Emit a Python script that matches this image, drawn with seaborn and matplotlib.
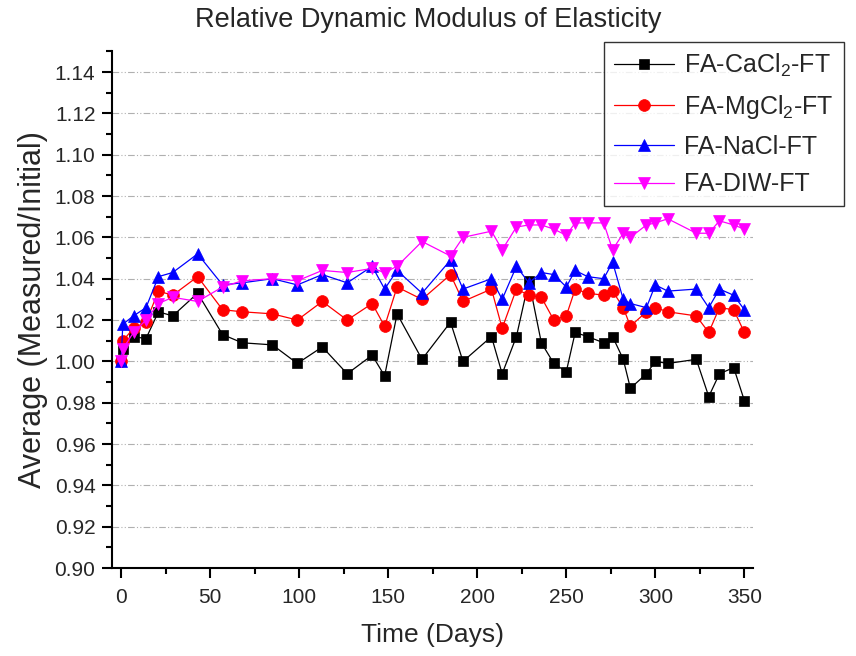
import numpy as np
import pandas as pd
import matplotlib
matplotlib.use("Agg")
import matplotlib.pyplot as plt
from matplotlib.ticker import MultipleLocator, FormatStrFormatter
import seaborn as sns

days = [0, 1, 7, 14, 21, 29, 43, 57, 68, 85, 99, 113, 127, 141, 148, 155, 169, 185, 192, 208,
        214, 222, 229, 236, 243, 250, 255, 262, 271, 276, 282, 286, 295, 300, 307, 323, 330, 336, 344, 350]

cacl2 = [1.000, 1.006, 1.012, 1.011, 1.024, 1.022, 1.033, 1.013, 1.009, 1.008, 0.999, 1.007, 0.994, 1.003,
         0.993, 1.023, 1.001, 1.019, 1.000, 1.012, 0.994, 1.012, 1.039, 1.009, 0.999, 0.995, 1.014, 1.012,
         1.009, 1.012, 1.001, 0.987, 0.994, 1.000, 0.999, 1.001, 0.983, 0.994, 0.997, 0.981]
mgcl2 = [1.000, 1.010, 1.016, 1.019, 1.034, 1.032, 1.041, 1.025, 1.024, 1.023, 1.020, 1.029, 1.020, 1.028,
         1.017, 1.036, 1.030, 1.042, 1.029, 1.035, 1.016, 1.035, 1.032, 1.031, 1.020, 1.022, 1.035, 1.033,
         1.032, 1.034, 1.026, 1.017, 1.024, 1.026, 1.024, 1.022, 1.014, 1.026, 1.025, 1.014]
nacl = [1.000, 1.018, 1.022, 1.026, 1.041, 1.043, 1.052, 1.037, 1.038, 1.040, 1.037, 1.042, 1.038, 1.046,
        1.035, 1.044, 1.033, 1.049, 1.035, 1.040, 1.030, 1.046, 1.038, 1.043, 1.042, 1.036, 1.044, 1.041,
        1.040, 1.048, 1.030, 1.028, 1.026, 1.037, 1.034, 1.035, 1.026, 1.035, 1.032, 1.025]
diw = [1.000, 1.006, 1.014, 1.020, 1.028, 1.031, 1.029, 1.036, 1.039, 1.040, 1.039, 1.044, 1.043, 1.045,
       1.043, 1.046, 1.058, 1.051, 1.060, 1.063, 1.054, 1.065, 1.066, 1.066, 1.064, 1.061, 1.067, 1.067,
       1.067, 1.054, 1.062, 1.060, 1.066, 1.067, 1.069, 1.062, 1.062, 1.068, 1.066, 1.064]

series_names = ["FA-CaCl$_2$-FT", "FA-MgCl$_2$-FT", "FA-NaCl-FT", "FA-DIW-FT"]
series_values = [cacl2, mgcl2, nacl, diw]
colors = ["#000000", "#FF0000", "#0000FF", "#FF00FF"]
markers = ["s", "o", "^", "v"]
msizes = [7.5, 8.5, 9, 9]

sns.set_theme(style="white")
plt.rcParams['font.family'] = ['Liberation Sans', 'DejaVu Sans']
plt.rcParams['mathtext.fontset'] = 'custom'
plt.rcParams['mathtext.rm'] = 'Liberation Sans'
plt.rcParams['mathtext.it'] = 'Liberation Sans'

fig = plt.figure(figsize=(8.56, 6.56), dpi=100)
ax = fig.add_axes([0.131, 0.134, 0.749, 0.789])

for name, vals, c, m, ms in zip(series_names, series_values, colors, markers, msizes):
    df = pd.DataFrame({"Day": days, "Value": vals})
    sns.lineplot(data=df, x="Day", y="Value", ax=ax, color=c, marker=m, markersize=ms,
                 markeredgecolor=c, markeredgewidth=0.5, linewidth=0.9, label=name,
                 estimator=None, sort=False)

ax.set_xlim(-5, 355)
ax.set_ylim(0.90, 1.1504)
ax.xaxis.set_major_locator(MultipleLocator(50))
ax.xaxis.set_minor_locator(MultipleLocator(25))
ax.set_yticks(np.arange(0.90, 1.1401, 0.02))
ax.yaxis.set_minor_locator(MultipleLocator(0.01))
ax.yaxis.set_major_formatter(FormatStrFormatter('%.2f'))

ax.grid(False)
for yv in np.arange(0.92, 1.1401, 0.02):
    ax.axhline(yv, color='#b0b0b0', linewidth=0.8, linestyle=(0, (6, 2, 1, 2, 1, 2)), zorder=0)

for s in ['top', 'right']:
    ax.spines[s].set_visible(False)
for s in ['left', 'bottom']:
    ax.spines[s].set_color('black')
    ax.spines[s].set_linewidth(1.5)

ax.tick_params(axis='both', which='major', direction='out', length=7, width=1.5,
               color='black', labelsize=15, left=True, bottom=True, pad=5)
ax.tick_params(axis='x', which='major', pad=7)
ax.tick_params(axis='both', which='minor', direction='out', length=4, width=1.5,
               color='black', left=True, bottom=True)

ax.set_xlabel("Time (Days)", fontsize=19, labelpad=12)
ax.set_ylabel("Average (Measured/Initial)", fontsize=22, labelpad=5)
fig.suptitle("Relative Dynamic Modulus of Elasticity", fontsize=19.5, y=0.99)

leg = ax.legend(loc='upper left', bbox_to_anchor=(0.7056, 0.936), bbox_transform=fig.transFigure,
                fontsize=18, frameon=True, fancybox=False, edgecolor='black',
                handlelength=2.4, borderpad=0.4, labelspacing=0.55, handletextpad=0.4,
                borderaxespad=0)
leg.get_frame().set_linewidth(1.0)

fig.savefig("out.png", dpi=100)
